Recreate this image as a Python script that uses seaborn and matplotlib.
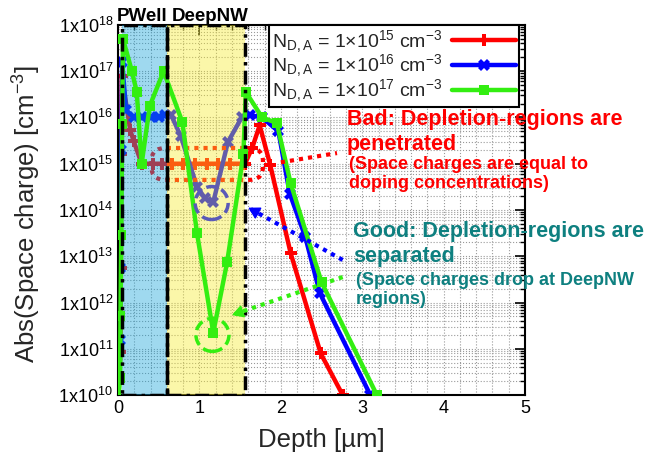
import numpy as np
import pandas as pd
import matplotlib

matplotlib.use("Agg")
import matplotlib.pyplot as plt
import matplotlib.transforms as mtrans
import seaborn as sns
from matplotlib.ticker import MultipleLocator, LogLocator, FuncFormatter, NullFormatter
from matplotlib.patches import FancyBboxPatch, Ellipse
from matplotlib.lines import Line2D

# -------------------------
# Data: depth [um] vs log10(|space charge| [cm^-3])
# -------------------------
depth_1e15 = [0.0, 0.03, 0.035, 0.04, 0.045, 0.15, 0.19, 0.29, 0.43, 0.54, 0.66, 0.8,
              0.95, 1.09, 1.23, 1.38, 1.52, 1.56, 1.65, 1.74, 1.87, 2.12, 2.49, 2.76]
logq_1e15 = [9.8, 10.93, 12.75, 15.2, 16.9, 15.73, 15.5, 15.0, 15.0, 15.0, 15.0, 15.0,
             15.0, 15.0, 15.0, 15.0, 15.0, 15.0, 15.35, 15.83, 14.97, 13.07, 10.9, 10.0]

depth_1e16 = [0.0, 0.02, 0.03, 0.04, 0.05, 0.1, 0.19, 0.3, 0.4, 0.5, 0.58, 0.65, 0.77,
              0.97, 1.07, 1.17, 1.35, 1.52, 1.62, 1.77, 1.97, 2.11, 2.3, 2.48, 3.1]
logq_1e16 = [9.8, 11.2, 12.75, 15.3, 17.2, 16.15, 16.0, 16.0, 16.0, 16.0, 16.05, 16.06, 15.6,
             14.5, 14.25, 14.17, 15.47, 16.0, 16.05, 16.0, 15.7, 14.35, 13.42, 12.2, 10.0]

depth_1e17 = [0.0, 0.025, 0.03, 0.04, 0.05, 0.06, 0.17, 0.23, 0.29, 0.39, 0.56, 0.79,
              0.97, 1.17, 1.34, 1.54, 1.57, 1.77, 1.95, 2.12, 2.5, 3.18]
logq_1e17 = [9.8, 10.37, 11.7, 13.46, 15.85, 17.7, 17.0, 16.55, 15.0, 16.25, 17.0, 15.9,
             13.5, 11.35, 12.87, 15.2, 16.55, 16.0, 15.88, 14.58, 12.44, 10.0]

doping_labels = ["15", "16", "17"]
region_names = ["PWell", "DeepNW"]
pwell_span = (0.05, 0.6)
deepnw_span = (0.6, 1.56)

RED = "#ff0000"
BLUE = "#0000ff"
GREEN = "#33ee11"
TEAL = "#0e8080"
DOTS = (0, (1, 1.2))

# -------------------------
# Setup
# -------------------------
sns.set_style("white")
plt.rcParams["font.family"] = ["Liberation Sans", "DejaVu Sans"]
plt.rcParams["mathtext.fontset"] = "custom"
plt.rcParams["mathtext.rm"] = "Liberation Sans"
plt.rcParams["mathtext.it"] = "Liberation Sans:italic"

fig = plt.figure(figsize=(6.45, 4.61), dpi=100)
ax = fig.add_axes([0.183, 0.143, 0.631, 0.803])

series = [
    (depth_1e15, logq_1e15, RED, "P", 9, 2.0),
    (depth_1e16, logq_1e16, BLUE, "X", 9, 2.1),
    (depth_1e17, logq_1e17, GREEN, "s", 7, 4.0),
]

for d, lq, col, mk, ms, z in series:
    df = pd.DataFrame({"depth": d, "charge": 10 ** np.array(lq)})
    sns.lineplot(data=df, x="depth", y="charge", sort=False, estimator=None,
                 color=col, lw=3.2, marker=mk, markersize=ms, markeredgewidth=0,
                 zorder=z, ax=ax)

ax.set_yscale("log")
ax.set_xlim(0, 5)
ax.set_ylim(1e10, 1e18)

# shaded regions (semi-transparent, on top of red/blue like the original)
ax.axvspan(*pwell_span, facecolor="#11a2d9", alpha=0.4, lw=0, zorder=3)
ax.axvspan(*deepnw_span, facecolor="#f7eb2a", alpha=0.4, lw=0, zorder=3)
for span in (pwell_span, deepnw_span):
    ax.axvspan(*span, fill=False, edgecolor="black", lw=2.5,
               ls=(0, (4, 1.5, 1, 1.5)), zorder=4.5)

for name, xc in zip(region_names, [0.29, 1.13]):
    ax.text(xc, 1.0, name, transform=ax.get_xaxis_transform(), ha="center",
            va="bottom", fontsize=13.5, fontweight="bold", color="black")

# red dotted box around the flat 1e15 part
box = FancyBboxPatch((0.41 / 5, (14.65 - 10) / 8), (1.78 - 0.41) / 5, (15.34 - 14.65) / 8,
                     boxstyle="round,pad=0,rounding_size=0.035", transform=ax.transAxes,
                     fill=False, edgecolor=RED, lw=3, ls=DOTS, zorder=2.5)
ax.add_patch(box)
ax.plot([2.0, 2.69], [10 ** 15.03, 10 ** 15.23], color=RED, lw=3, ls=DOTS, zorder=5)

# dashed circles
for (cx, cy), col in [((1.15, 10 ** 14.15), "#5a5ab8"), ((1.16, 10 ** 11.3), GREEN)]:
    tr = fig.dpi_scale_trans + mtrans.ScaledTranslation(cx, cy, ax.transData)
    ax.add_patch(Ellipse((0, 0), 0.33, 0.33, transform=tr, fill=False,
                         edgecolor=col, lw=2.5, ls=(0, (3, 1.5)), zorder=5))

# dotted arrows: dotted shaft + solid head
arrows = [((2.76, 10 ** 12.92), (1.6, 10 ** 14.05), BLUE),
          ((2.76, 10 ** 12.55), (1.4, 10 ** 11.73), GREEN)]
for (tx, ty), (hx, hy), col in arrows:
    ax.plot([tx, hx], [ty, hy], color=col, lw=3, ls=DOTS, zorder=5, clip_on=False)
    bx = hx + 0.12 * (tx - hx)
    by = 10 ** (np.log10(hy) + 0.12 * (np.log10(ty) - np.log10(hy)))
    ax.annotate("", xy=(hx, hy), xytext=(bx, by),
                arrowprops=dict(arrowstyle="-|>,head_length=0.7,head_width=0.4", color=col,
                                lw=1, shrinkA=0, shrinkB=0),
                annotation_clip=False, zorder=5)

# axes style
ax.grid(which="both", ls=":", color="#9a9a9a", lw=0.8, zorder=0)
ax.xaxis.set_major_locator(MultipleLocator(1))
ax.xaxis.set_minor_locator(MultipleLocator(0.2))
ax.yaxis.set_major_locator(LogLocator(base=10, numticks=20))
ax.yaxis.set_minor_locator(LogLocator(base=10, subs=np.arange(2, 10), numticks=20))
ax.yaxis.set_minor_formatter(NullFormatter())
ax.yaxis.set_major_formatter(FuncFormatter(lambda v, p: r"1x10$^{%d}$" % round(np.log10(v))))
ax.tick_params(which="both", direction="in", top=True, right=True, labelsize=13, colors="black")
ax.tick_params(which="major", length=7, width=1.2)
ax.tick_params(which="minor", length=3.5, width=1)
for s in ax.spines.values():
    s.set_color("black")
    s.set_linewidth(1.5)

ax.set_xlabel("Depth [µm]", fontsize=18.5, labelpad=8)
ax.set_ylabel(r"Abs(Space charge) [cm$^{-3}$]", fontsize=18.5)
ax.yaxis.set_label_coords(-0.185, 0.49)

handles = [Line2D([], [], color=col, lw=3.2, marker=mk, markersize=ms, markeredgewidth=0)
           for _, _, col, mk, ms, _ in series]
labels = [r"N$_{\mathregular{D,A}}$ = 1×10$^{%s}$ cm$^{-3}$" % e for e in doping_labels]
leg = ax.legend(handles, labels, loc="upper right", fontsize=14, markerfirst=False,
                handlelength=3.3, labelspacing=-0.1, borderpad=0.15, handletextpad=0.5,
                borderaxespad=0.0, frameon=True, fancybox=False, framealpha=1,
                edgecolor="black", bbox_to_anchor=(0.985, 1.0))
leg.get_frame().set_linewidth(1.5)
leg.set_zorder(10)

# text annotations
def ftext(px, py, s, col, size):
    fig.text(px / 645, 1 - py / 461, s, color=col, fontsize=size, fontweight="bold",
             ha="left", va="center", linespacing=1.2)

ftext(347, 132, "Bad: Depletion-regions are\npenetrated", RED, 15.5)
ftext(349, 174, "(Space charges are equal to\ndoping concentrations)", RED, 13)
ftext(353, 244, "Good: Depletion-regions are\nseparated", TEAL, 15.5)
ftext(356, 290, "(Space charges drop at DeepNW\nregions)", TEAL, 13)

fig.savefig("out.png", dpi=100)
